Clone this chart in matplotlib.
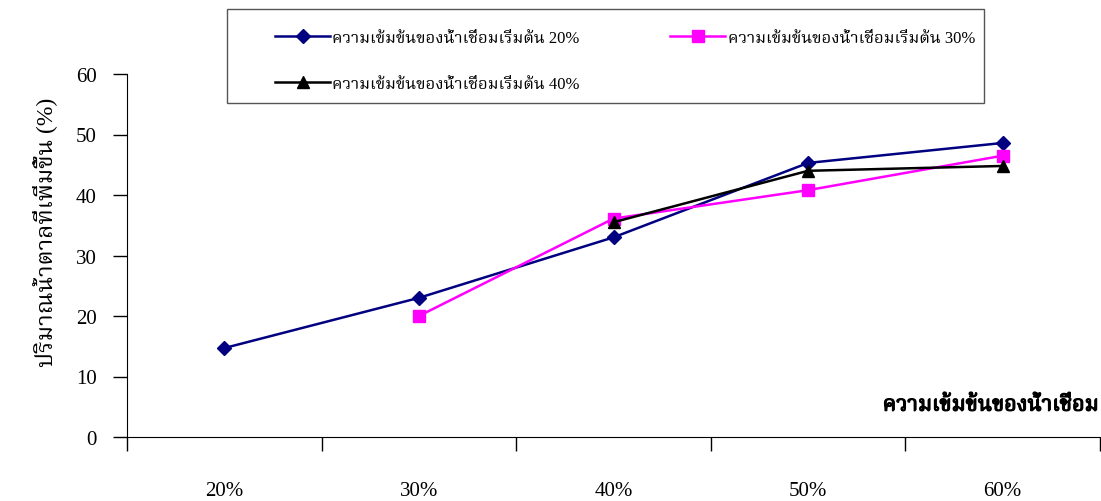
import numpy as np
import matplotlib
matplotlib.use("Agg")
import matplotlib.pyplot as plt
import matplotlib.patheffects as pe
from matplotlib import font_manager
from matplotlib.ft2font import FT2Font
from matplotlib.patches import Rectangle

categories = ["20%", "30%", "40%", "50%", "60%"]
s20 = [14.7, 23.0, 33.0, 45.3, 48.6]
s30 = [np.nan, 20.0, 36.1, 40.8, 46.5]
s40 = [np.nan, np.nan, 35.5, 44.0, 44.8]
labels = ["ความเข้มข้นของน้ำเชื่อมเริ่มต้น 20%",
          "ความเข้มข้นของน้ำเชื่อมเริ่มต้น 30%",
          "ความเข้มข้นของน้ำเชื่อมเริ่มต้น 40%"]
xlabel = "ความเข้มข้นของน้ำเชื่อม"
ylabel = "ปริมาณน้ำตาลที่เพิ่มขึ้น (%)"


def find_thai_font():
    # pick an installed family that actually has Thai glyphs
    prefs = ["Serif Thai", "Norasi", "Sarabun", "Loma", "Garuda", "Kinnari", "Thai"]
    found = []
    for f in font_manager.fontManager.ttflist:
        try:
            cmap = FT2Font(f.fname).get_charmap()
        except Exception:
            continue
        if 0x0E01 in cmap and 0x0E49 in cmap:
            found.append(f.name)
    for p in prefs:
        for name in found:
            if p.lower() in name.lower():
                return name
    return found[0] if found else "DejaVu Sans"


thai = find_thai_font()
plt.rcParams["font.family"] = ["Liberation Serif", thai, "DejaVu Sans"]

fig = plt.figure(figsize=(11.01, 5.02), dpi=100)
W, H = 1101, 502
ax = fig.add_axes([127 / W, 1 - 438 / H, (1100 - 127) / W, (438 - 75) / H])

x = np.arange(len(categories))
l20, = ax.plot(x, s20, color="#000080", lw=1.8, marker="D", ms=7.5, label=labels[0])
l30, = ax.plot(x, s30, color="#FF00FF", lw=1.8, marker="s", ms=8.5, label=labels[1])
l40, = ax.plot(x, s40, color="black", lw=1.8, marker="^", ms=9, label=labels[2])

ax.set_ylim(0, 60)
ax.set_yticks(range(0, 61, 10))
ax.set_xlim(-0.5, -0.5 + (1100 - 127) / 195.5)
ax.set_xticks(x)
ax.set_xticklabels(categories)
ax.set_xticks(np.arange(-0.5, 5, 1), minor=True)
ax.tick_params(axis="x", which="major", length=0, pad=32, labelsize=15)
ax.tick_params(axis="x", which="minor", length=10, width=1, direction="out")
ax.tick_params(axis="y", length=10, width=1, direction="out", labelsize=15, pad=12)
for s in ["top", "right"]:
    ax.spines[s].set_visible(False)

ax.text(0.998, 0.085, xlabel, transform=ax.transAxes, ha="right", va="center",
        fontsize=15.5, path_effects=[pe.withStroke(linewidth=0.9, foreground="black")])
fig.text(45 / W, 1 - 232 / H, ylabel, rotation=90, ha="center", va="center", fontsize=17)

# legend box drawn separately so the entries can sit inset from the frame
fig.patches.append(Rectangle((227 / W, 1 - 104 / H), (984 - 227) / W, 94 / H,
                             transform=fig.transFigure, fill=False,
                             edgecolor="#555555", lw=1))
fig.legend([l20, l40, l30], [labels[0], labels[2], labels[1]], ncol=2,
           loc="upper left", bbox_to_anchor=(275 / W, 1 - 31 / H),
           fontsize=12, frameon=False, borderpad=0, borderaxespad=0,
           handlelength=3.3, handletextpad=0.15, labelspacing=1.8,
           columnspacing=5.4)

fig.savefig("out.png", dpi=100)
